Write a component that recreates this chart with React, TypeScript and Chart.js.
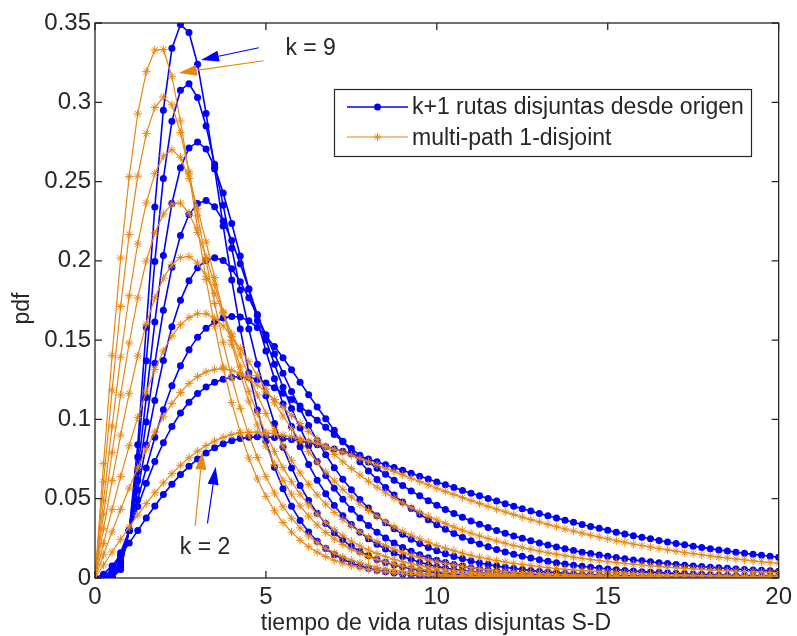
import React, { useEffect, useRef } from 'react';
import { Chart, registerables } from 'chart.js';

Chart.register(...registerables);

// ---------------- data ----------------
const X = [
  0, 0.25, 0.5, 0.75, 1, 1.25, 1.5, 1.75, 2, 2.25, 2.5, 2.75, 3, 3.25, 3.5, 3.75,
  4, 4.25, 4.5, 4.75, 5, 5.25, 5.5, 5.75, 6, 6.25, 6.5, 6.75, 7, 7.25, 7.5, 7.75,
  8, 8.25, 8.5, 8.75, 9, 9.25, 9.5, 9.75, 10, 10.25, 10.5, 10.75, 11, 11.25, 11.5, 11.75,
  12, 12.25, 12.5, 12.75, 13, 13.25, 13.5, 13.75, 14, 14.25, 14.5, 14.75, 15, 15.25, 15.5, 15.75,
  16, 16.25, 16.5, 16.75, 17, 17.25, 17.5, 17.75, 18, 18.25, 18.5, 18.75, 19, 19.25, 19.5, 19.75,
  20,
];

const K_VALUES = [2, 3, 4, 5, 6, 7, 8, 9];

// "k+1 rutas disjuntas desde origen" (blue)
const BLUE_K2 = [
  0, 0.0024, 0.0076, 0.0144, 0.022, 0.0299, 0.0378, 0.0454, 0.0526, 0.0592, 0.0652, 0.0704,
  0.075, 0.0789, 0.0821, 0.0846, 0.0865, 0.0879, 0.0887, 0.089, 0.089, 0.0886, 0.0881, 0.0873,
  0.0864, 0.0853, 0.0841, 0.0828, 0.0814, 0.0799, 0.0783, 0.0767, 0.075, 0.0733, 0.0714, 0.0697,
  0.0679, 0.0661, 0.0642, 0.0624, 0.0606, 0.0588, 0.057, 0.0552, 0.0535, 0.0518, 0.0501, 0.0485,
  0.0469, 0.0453, 0.0437, 0.0422, 0.0407, 0.0392, 0.0378, 0.0364, 0.0351, 0.0338, 0.0325, 0.0313,
  0.0301, 0.0289, 0.0278, 0.0267, 0.0257, 0.0247, 0.0237, 0.0227, 0.0218, 0.0209, 0.0201, 0.0193,
  0.0185, 0.0177, 0.017, 0.0163, 0.0156, 0.0149, 0.0143, 0.0137, 0.0131,
];
const BLUE_K3 = [
  0, 0.0005, 0.0055, 0.016, 0.03, 0.0451, 0.0598, 0.0734, 0.0853, 0.0955, 0.104, 0.1109,
  0.1163, 0.1204, 0.1234, 0.1254, 0.1266, 0.127, 0.1266, 0.1252, 0.1229, 0.12, 0.1165, 0.1126,
  0.1084, 0.104, 0.0995, 0.095, 0.0905, 0.086, 0.0816, 0.0774, 0.0732, 0.0692, 0.0654, 0.0617,
  0.0583, 0.0549, 0.0518, 0.0487, 0.0459, 0.0432, 0.0407, 0.0383, 0.036, 0.0339, 0.0319, 0.03,
  0.0282, 0.0265, 0.025, 0.0235, 0.0221, 0.0208, 0.0196, 0.0184, 0.0173, 0.0163, 0.0154, 0.0145,
  0.0137, 0.0129, 0.0121, 0.0114, 0.0108, 0.0102, 0.0096, 0.0091, 0.0085, 0.0081, 0.0076, 0.0072,
  0.0068, 0.0064, 0.0061, 0.0057, 0.0054, 0.0051, 0.0049, 0.0046, 0.0043,
];
const BLUE_K4 = [
  0, 0.0002, 0.0037, 0.0139, 0.03, 0.0493, 0.0694, 0.0887, 0.1061, 0.1212, 0.1338, 0.1439,
  0.1518, 0.1575, 0.1615, 0.1639, 0.1649, 0.1646, 0.1622, 0.158, 0.1525, 0.146, 0.1389, 0.1313,
  0.1235, 0.1156, 0.1079, 0.1004, 0.0931, 0.0862, 0.0796, 0.0733, 0.0675, 0.0621, 0.057, 0.0523,
  0.0479, 0.0439, 0.0402, 0.0368, 0.0336, 0.0308, 0.0281, 0.0257, 0.0235, 0.0215, 0.0197, 0.018,
  0.0164, 0.015, 0.0137, 0.0126, 0.0115, 0.0105, 0.0096, 0.0088, 0.0081, 0.0074, 0.0068, 0.0062,
  0.0057, 0.0052, 0.0048, 0.0044, 0.004, 0.0037, 0.0034, 0.0031, 0.0029, 0.0027, 0.0024, 0.0023,
  0.0021, 0.0019, 0.0018, 0.0016, 0.0015, 0.0014, 0.0013, 0.0012, 0.0011,
];
const BLUE_K5 = [
  0, 0, 0.0021, 0.0114, 0.03, 0.0555, 0.0839, 0.1119, 0.1372, 0.1584, 0.1751, 0.1874,
  0.1957, 0.2003, 0.202, 0.2003, 0.195, 0.1868, 0.1767, 0.1654, 0.1534, 0.1412, 0.1292, 0.1176,
  0.1066, 0.0962, 0.0866, 0.0777, 0.0696, 0.0622, 0.0556, 0.0495, 0.0441, 0.0393, 0.0349, 0.031,
  0.0276, 0.0245, 0.0218, 0.0193, 0.0172, 0.0153, 0.0136, 0.0121, 0.0107, 0.0095, 0.0085, 0.0075,
  0.0067, 0.006, 0.0053, 0.0048, 0.0042, 0.0038, 0.0034, 0.003, 0.0027, 0.0024, 0.0022, 0.0019,
  0.0017, 0.0016, 0.0014, 0.0013, 0.0011, 0.001, 0.0009, 0.0008, 0.0007, 0.0007, 0.0006, 0.0005,
  0.0005, 0.0004, 0.0004, 0.0004, 0.0003, 0.0003, 0.0003, 0.0003, 0.0002,
];
const BLUE_K6 = [
  0, 0, 0.0012, 0.0095, 0.03, 0.0613, 0.0983, 0.1355, 0.1688, 0.1959, 0.216, 0.2292,
  0.2362, 0.238, 0.2341, 0.2252, 0.2128, 0.1981, 0.1823, 0.1661, 0.1501, 0.1348, 0.1203, 0.1069,
  0.0946, 0.0835, 0.0735, 0.0646, 0.0566, 0.0496, 0.0434, 0.0379, 0.0331, 0.0289, 0.0253, 0.022,
  0.0192, 0.0168, 0.0147, 0.0128, 0.0112, 0.0098, 0.0085, 0.0075, 0.0065, 0.0057, 0.005, 0.0044,
  0.0039, 0.0034, 0.003, 0.0026, 0.0023, 0.002, 0.0018, 0.0016, 0.0014, 0.0012, 0.0011, 0.001,
  0.0008, 0.0008, 0.0007, 0.0006, 0.0005, 0.0005, 0.0004, 0.0004, 0.0004, 0.0003, 0.0003, 0.0003,
  0.0003, 0.0002, 0.0002, 0.0002, 0.0002, 0.0002, 0.0002, 0.0002, 0.0002,
];
const BLUE_K7 = [
  0, 0, 0.0008, 0.0081, 0.03, 0.0674, 0.1139, 0.1614, 0.2034, 0.2363, 0.2587, 0.2712,
  0.275, 0.2706, 0.2591, 0.2428, 0.2236, 0.2031, 0.1823, 0.1622, 0.1432, 0.1257, 0.1098, 0.0955,
  0.0827, 0.0715, 0.0617, 0.0531, 0.0457, 0.0393, 0.0337, 0.0289, 0.0248, 0.0213, 0.0183, 0.0157,
  0.0135, 0.0116, 0.0099, 0.0085, 0.0073, 0.0063, 0.0054, 0.0047, 0.004, 0.0035, 0.003, 0.0026,
  0.0023, 0.002, 0.0017, 0.0015, 0.0013, 0.0011, 0.001, 0.0008, 0.0007, 0.0006, 0.0006, 0.0005,
  0.0004, 0.0004, 0.0003, 0.0003, 0.0003, 0.0002, 0.0002, 0.0002, 0.0002, 0.0001, 0.0001, 0.0001,
  0.0001, 0.0001, 0.0001, 0.0001, 0.0001, 0.0001, 0.0001, 0.0001, 0.0001,
];
const BLUE_K8 = [
  0, 0, 0.0004, 0.0063, 0.03, 0.0763, 0.137, 0.1996, 0.252, 0.288, 0.3076, 0.3117,
  0.303, 0.285, 0.261, 0.235, 0.208, 0.1816, 0.157, 0.1348, 0.1149, 0.0975, 0.0824, 0.0694,
  0.0583, 0.0489, 0.0409, 0.0343, 0.0286, 0.0239, 0.02, 0.0167, 0.014, 0.0117, 0.0098, 0.0082,
  0.0069, 0.0058, 0.0048, 0.0041, 0.0034, 0.0029, 0.0024, 0.0021, 0.0017, 0.0015, 0.0012, 0.0011,
  0.0009, 0.0008, 0.0006, 0.0005, 0.0005, 0.0004, 0.0004, 0.0003, 0.0003, 0.0002, 0.0002, 0.0002,
  0.0002, 0.0001, 0.0001, 0.0001, 0.0001, 0.0001, 0.0001, 0.0001, 0, 0, 0, 0,
  0, 0, 0, 0, 0, 0, 0, 0, 0,
];
const BLUE_K9 = [
  0, 0, 0.0002, 0.0053, 0.0301, 0.084, 0.158, 0.234, 0.295, 0.334, 0.349, 0.344,
  0.324, 0.293, 0.258, 0.222, 0.188, 0.157, 0.1295, 0.106, 0.0863, 0.0698, 0.0563, 0.0452,
  0.0363, 0.029, 0.0232, 0.0186, 0.0148, 0.0118, 0.0095, 0.0076, 0.0061, 0.0049, 0.0039, 0.0031,
  0.0025, 0.002, 0.0016, 0.0013, 0.0011, 0.0009, 0.0007, 0.0006, 0.0005, 0.0004, 0.0003, 0.0003,
  0.0002, 0.0002, 0.0001, 0.0001, 0.0001, 0.0001, 0.0001, 0, 0, 0, 0, 0,
  0, 0, 0, 0, 0, 0, 0, 0, 0, 0, 0, 0,
  0, 0, 0, 0, 0, 0, 0, 0, 0,
];

// "multi-path 1-disjoint" (orange)
const ORANGE_K2 = [
  0, 0.0082, 0.0164, 0.0244, 0.0322, 0.0397, 0.0469, 0.0537, 0.06, 0.0658, 0.0711, 0.0758,
  0.08, 0.0835, 0.0864, 0.0887, 0.0904, 0.0915, 0.092, 0.092, 0.0916, 0.091, 0.0901, 0.089,
  0.0878, 0.0863, 0.0847, 0.083, 0.0812, 0.0793, 0.0774, 0.0754, 0.0733, 0.0713, 0.0692, 0.0671,
  0.065, 0.0629, 0.0608, 0.0587, 0.0566, 0.0546, 0.0527, 0.0507, 0.0488, 0.047, 0.0452, 0.0434,
  0.0417, 0.04, 0.0384, 0.0368, 0.0353, 0.0338, 0.0323, 0.0309, 0.0296, 0.0283, 0.027, 0.0258,
  0.0247, 0.0235, 0.0225, 0.0214, 0.0205, 0.0195, 0.0186, 0.0177, 0.0169, 0.0161, 0.0154, 0.0146,
  0.0139, 0.0132, 0.0126, 0.012, 0.0114, 0.0108, 0.0103, 0.0098, 0.0093,
];
const ORANGE_K3 = [
  0, 0.0147, 0.0291, 0.0432, 0.0567, 0.0694, 0.0813, 0.092, 0.1016, 0.11, 0.117, 0.1227,
  0.127, 0.13, 0.1316, 0.132, 0.131, 0.1288, 0.1256, 0.1217, 0.1173, 0.1126, 0.1076, 0.1026,
  0.0974, 0.0924, 0.0874, 0.0826, 0.0779, 0.0733, 0.069, 0.0649, 0.061, 0.0573, 0.0537, 0.0504,
  0.0473, 0.0444, 0.0416, 0.039, 0.0366, 0.0343, 0.0321, 0.0301, 0.0282, 0.0265, 0.0248, 0.0233,
  0.0219, 0.0205, 0.0193, 0.0181, 0.017, 0.0159, 0.015, 0.0141, 0.0132, 0.0124, 0.0117, 0.011,
  0.0104, 0.0098, 0.0092, 0.0087, 0.0082, 0.0077, 0.0072, 0.0068, 0.0064, 0.0061, 0.0057, 0.0054,
  0.0051, 0.0048, 0.0046, 0.0043, 0.0041, 0.0039, 0.0037, 0.0035, 0.0033,
];
const ORANGE_K4 = [
  0, 0.0218, 0.0433, 0.0639, 0.0834, 0.1013, 0.1174, 0.1314, 0.1432, 0.1526, 0.1597, 0.1643,
  0.1667, 0.1667, 0.1639, 0.159, 0.1524, 0.1447, 0.1364, 0.1278, 0.1191, 0.1105, 0.1022, 0.0943,
  0.0867, 0.0796, 0.073, 0.0669, 0.0612, 0.0559, 0.0511, 0.0466, 0.0426, 0.0389, 0.0355, 0.0323,
  0.0295, 0.027, 0.0246, 0.0225, 0.0205, 0.0187, 0.0171, 0.0157, 0.0143, 0.0131, 0.012, 0.011,
  0.0101, 0.0092, 0.0085, 0.0078, 0.0071, 0.0065, 0.006, 0.0055, 0.0051, 0.0047, 0.0043, 0.004,
  0.0037, 0.0034, 0.0031, 0.0029, 0.0027, 0.0024, 0.0023, 0.0021, 0.0019, 0.0018, 0.0017, 0.0015,
  0.0014, 0.0013, 0.0012, 0.0011, 0.0011, 0.001, 0.0009, 0.0008, 0.0008,
];
const ORANGE_K5 = [
  0, 0.0311, 0.0614, 0.0901, 0.1165, 0.14, 0.1602, 0.1766, 0.1891, 0.1975, 0.2021, 0.2028,
  0.1986, 0.1904, 0.1795, 0.1671, 0.154, 0.1407, 0.1277, 0.1154, 0.1038, 0.0931, 0.0833, 0.0743,
  0.0662, 0.059, 0.0524, 0.0466, 0.0414, 0.0368, 0.0327, 0.029, 0.0258, 0.023, 0.0204, 0.0182,
  0.0162, 0.0144, 0.0128, 0.0114, 0.0102, 0.0091, 0.0081, 0.0073, 0.0065, 0.0058, 0.0052, 0.0047,
  0.0042, 0.0038, 0.0034, 0.0031, 0.0028, 0.0025, 0.0022, 0.002, 0.0018, 0.0016, 0.0015, 0.0013,
  0.0012, 0.0011, 0.001, 0.0009, 0.0008, 0.0007, 0.0007, 0.0006, 0.0006, 0.0005, 0.0005, 0.0004,
  0.0004, 0.0004, 0.0003, 0.0003, 0.0003, 0.0003, 0.0002, 0.0002, 0.0002,
];
const ORANGE_K6 = [
  0, 0.0402, 0.079, 0.1154, 0.1482, 0.1766, 0.1999, 0.2176, 0.2295, 0.2358, 0.2365, 0.2301,
  0.2179, 0.2024, 0.185, 0.1672, 0.1498, 0.1332, 0.1177, 0.1037, 0.091, 0.0797, 0.0696, 0.0607,
  0.0529, 0.0461, 0.0402, 0.035, 0.0305, 0.0266, 0.0232, 0.0202, 0.0176, 0.0154, 0.0134, 0.0118,
  0.0103, 0.009, 0.0079, 0.0069, 0.0061, 0.0054, 0.0047, 0.0042, 0.0037, 0.0032, 0.0029, 0.0025,
  0.0022, 0.002, 0.0018, 0.0016, 0.0014, 0.0012, 0.0011, 0.001, 0.0009, 0.0008, 0.0007, 0.0006,
  0.0006, 0.0005, 0.0005, 0.0004, 0.0004, 0.0003, 0.0003, 0.0003, 0.0003, 0.0002, 0.0002, 0.0002,
  0.0002, 0.0002, 0.0002, 0.0001, 0.0001, 0.0001, 0.0001, 0.0001, 0.0001,
];
const ORANGE_K7 = [
  0, 0.0487, 0.0957, 0.1393, 0.178, 0.2107, 0.2365, 0.255, 0.2661, 0.27, 0.2653, 0.2519,
  0.2332, 0.2118, 0.1895, 0.1678, 0.1474, 0.1286, 0.1116, 0.0965, 0.0833, 0.0717, 0.0616, 0.0529,
  0.0454, 0.039, 0.0335, 0.0287, 0.0247, 0.0212, 0.0182, 0.0157, 0.0135, 0.0117, 0.0101, 0.0087,
  0.0075, 0.0065, 0.0056, 0.0049, 0.0043, 0.0037, 0.0032, 0.0028, 0.0025, 0.0021, 0.0019, 0.0016,
  0.0014, 0.0013, 0.0011, 0.001, 0.0009, 0.0008, 0.0007, 0.0006, 0.0005, 0.0005, 0.0004, 0.0004,
  0.0003, 0.0003, 0.0003, 0.0002, 0.0002, 0.0002, 0.0002, 0.0002, 0.0002, 0.0001, 0.0001, 0.0001,
  0.0001, 0.0001, 0.0001, 0.0001, 0.0001, 0.0001, 0.0001, 0.0001, 0.0001,
];
const ORANGE_K8 = [
  0, 0.0606, 0.1185, 0.1712, 0.2167, 0.2534, 0.2802, 0.2967, 0.3033, 0.2984, 0.2809, 0.2562,
  0.2284, 0.2001, 0.1731, 0.1484, 0.1263, 0.107, 0.0903, 0.076, 0.0639, 0.0536, 0.0449, 0.0377,
  0.0316, 0.0265, 0.0223, 0.0187, 0.0158, 0.0133, 0.0112, 0.0095, 0.008, 0.0068, 0.0057, 0.0049,
  0.0042, 0.0035, 0.003, 0.0026, 0.0022, 0.0019, 0.0016, 0.0014, 0.0012, 0.001, 0.0009, 0.0008,
  0.0007, 0.0006, 0.0005, 0.0004, 0.0004, 0.0003, 0.0003, 0.0002, 0.0002, 0.0002, 0.0002, 0.0002,
  0.0001, 0.0001, 0.0001, 0.0001, 0.0001, 0.0001, 0.0001, 0.0001, 0, 0, 0, 0,
  0, 0, 0, 0, 0, 0, 0, 0, 0,
];
const ORANGE_K9 = [
  0, 0.0721, 0.1404, 0.2017, 0.2531, 0.2927, 0.3193, 0.3329, 0.3333, 0.3164, 0.2882, 0.2549,
  0.2207, 0.1883, 0.1588, 0.1329, 0.1106, 0.0917, 0.0757, 0.0625, 0.0515, 0.0424, 0.035, 0.0289,
  0.0238, 0.0197, 0.0163, 0.0135, 0.0112, 0.0093, 0.0077, 0.0064, 0.0054, 0.0045, 0.0038, 0.0032,
  0.0027, 0.0022, 0.0019, 0.0016, 0.0013, 0.0011, 0.001, 0.0008, 0.0007, 0.0006, 0.0005, 0.0004,
  0.0004, 0.0003, 0.0003, 0.0002, 0.0002, 0.0002, 0.0001, 0.0001, 0.0001, 0.0001, 0.0001, 0.0001,
  0.0001, 0, 0, 0, 0, 0, 0, 0, 0, 0, 0, 0,
  0, 0, 0, 0, 0, 0, 0, 0, 0,
];

const BLUE_SERIES = [BLUE_K2, BLUE_K3, BLUE_K4, BLUE_K5, BLUE_K6, BLUE_K7, BLUE_K8, BLUE_K9];
const ORANGE_SERIES = [ORANGE_K2, ORANGE_K3, ORANGE_K4, ORANGE_K5, ORANGE_K6, ORANGE_K7, ORANGE_K8, ORANGE_K9];

const LEGEND_LABELS = ['k+1 rutas disjuntas desde origen', 'multi-path 1-disjoint'];
const X_TITLE = 'tiempo de vida rutas disjuntas S-D';
const Y_TITLE = 'pdf';

const X_TICKS = [0, 5, 10, 15, 20];
const X_TICK_LABELS = ['0', '5', '10', '15', '20'];
const Y_TICKS = [0, 0.05, 0.1, 0.15, 0.2, 0.25, 0.3, 0.35];
const Y_TICK_LABELS = ['0', '0.05', '0.1', '0.15', '0.2', '0.25', '0.3', '0.35'];

// annotation text + arrows (data coordinates)
const NOTE_LABELS = [
  { text: 'k = 9', x: 5.57, y: 0.3336, align: 'left' },
  { text: 'k = 2', x: 3.22, y: 0.0189, align: 'center' },
];
const NOTE_ARROWS = [
  { series: 'blue', from: [4.79, 0.3344], to: [3.1, 0.3267] },
  { series: 'orange', from: [4.935, 0.3262], to: [2.45, 0.3185] },
  { series: 'orange', from: [2.93, 0.0328], to: [3.145, 0.0797] },
  { series: 'blue', from: [3.29, 0.0345], to: [3.53, 0.0702] },
];

// ---------------- styles ----------------
const BLUE = '#0000ff';
const ORANGE = '#e68714';
const INK = '#262626';
const FONT = '"Liberation Sans", Arial, Helvetica, sans-serif';
const TEXT_SIZE = 23;
const TICK_SIZE = 24;

function drawArrow(ctx: CanvasRenderingContext2D, x1: number, y1: number, x2: number, y2: number, color: string) {
  const len = 18;
  const hw = 5.5;
  const ang = Math.atan2(y2 - y1, x2 - x1);
  const bx = x2 - len * Math.cos(ang);
  const by = y2 - len * Math.sin(ang);
  ctx.strokeStyle = color;
  ctx.lineWidth = 1.2;
  ctx.beginPath();
  ctx.moveTo(x1, y1);
  ctx.lineTo(bx, by);
  ctx.stroke();
  ctx.fillStyle = color;
  ctx.beginPath();
  ctx.moveTo(x2, y2);
  ctx.lineTo(bx - hw * Math.sin(ang), by + hw * Math.cos(ang));
  ctx.lineTo(bx + hw * Math.sin(ang), by - hw * Math.cos(ang));
  ctx.closePath();
  ctx.fill();
}

function drawStar(ctx: CanvasRenderingContext2D, x: number, y: number, r: number, color: string) {
  ctx.strokeStyle = color;
  ctx.lineWidth = 1;
  ctx.beginPath();
  ctx.moveTo(x - r, y); ctx.lineTo(x + r, y);
  ctx.moveTo(x, y - r); ctx.lineTo(x, y + r);
  const d = r * 0.7071;
  ctx.moveTo(x - d, y - d); ctx.lineTo(x + d, y + d);
  ctx.moveTo(x - d, y + d); ctx.lineTo(x + d, y - d);
  ctx.stroke();
}

const framePlugin = {
  id: 'matlabFrame',
  afterDraw(chart: any) {
    const ctx: CanvasRenderingContext2D = chart.ctx;
    const { left, right, top, bottom } = chart.chartArea;
    const xs = chart.scales.x;
    const ys = chart.scales.y;
    ctx.save();

    // box
    ctx.strokeStyle = INK;
    ctx.lineWidth = 1.3;
    ctx.strokeRect(left, top, right - left, bottom - top);

    // inward ticks on all four sides
    const tl = 7;
    ctx.beginPath();
    X_TICKS.forEach((v) => {
      const px = xs.getPixelForValue(v);
      ctx.moveTo(px, bottom); ctx.lineTo(px, bottom - tl);
      ctx.moveTo(px, top); ctx.lineTo(px, top + tl);
    });
    Y_TICKS.forEach((v) => {
      const py = ys.getPixelForValue(v);
      ctx.moveTo(left, py); ctx.lineTo(left + tl, py);
      ctx.moveTo(right, py); ctx.lineTo(right - tl, py);
    });
    ctx.stroke();

    // annotation arrows
    NOTE_ARROWS.forEach((a) => {
      drawArrow(
        ctx,
        xs.getPixelForValue(a.from[0]), ys.getPixelForValue(a.from[1]),
        xs.getPixelForValue(a.to[0]), ys.getPixelForValue(a.to[1]),
        a.series === 'blue' ? BLUE : ORANGE,
      );
    });

    ctx.font = `${TEXT_SIZE}px ${FONT}`;
    ctx.fillStyle = INK;
    ctx.textBaseline = 'middle';
    NOTE_LABELS.forEach((n) => {
      ctx.textAlign = n.align as CanvasTextAlign;
      ctx.fillText(n.text, xs.getPixelForValue(n.x), ys.getPixelForValue(n.y));
    });

    // legend box
    const lx = 334.5, ly = 89.5, lw = 417, lh = 67;
    ctx.fillStyle = '#ffffff';
    ctx.fillRect(lx, ly, lw, lh);
    ctx.strokeStyle = INK;
    ctx.lineWidth = 1.2;
    ctx.strokeRect(lx, ly, lw, lh);

    // blue entry
    ctx.strokeStyle = BLUE;
    ctx.lineWidth = 1.5;
    ctx.beginPath();
    ctx.moveTo(347, 107); ctx.lineTo(408, 107);
    ctx.stroke();
    ctx.fillStyle = BLUE;
    ctx.beginPath();
    ctx.arc(377.5, 107, 3.5, 0, Math.PI * 2);
    ctx.fill();
    // orange entry
    ctx.strokeStyle = ORANGE;
    ctx.lineWidth = 1.2;
    ctx.beginPath();
    ctx.moveTo(347, 137); ctx.lineTo(408, 137);
    ctx.stroke();
    drawStar(ctx, 377.5, 137, 4, ORANGE);

    ctx.fillStyle = INK;
    ctx.textAlign = 'left';
    ctx.fillText(LEGEND_LABELS[0], 412, 108);
    ctx.fillText(LEGEND_LABELS[1], 412, 139);

    // axis titles
    ctx.textAlign = 'center';
    ctx.fillText(X_TITLE, 436, 624);
    ctx.save();
    ctx.translate(23, (top + bottom) / 2 + 8);
    ctx.rotate(-Math.PI / 2);
    ctx.fillText(Y_TITLE, 0, 0);
    ctx.restore();

    ctx.restore();
  },
};

export default function App() {
  const canvasRef = useRef<HTMLCanvasElement | null>(null);

  useEffect(() => {
    const canvas = canvasRef.current;
    if (!canvas) return;

    const datasets: any[] = [];
    // orange on top (index 0 is drawn last)
    K_VALUES.forEach((k, i) => {
      datasets.push({
        label: `${LEGEND_LABELS[1]} k=${k}`,
        data: ORANGE_SERIES[i].map((y, j) => ({ x: X[j], y })),
        borderColor: ORANGE,
        backgroundColor: ORANGE,
        borderWidth: 1.2,
        pointStyle: 'star',
        pointRadius: 4.2,
        pointBorderWidth: 1,
        pointBorderColor: ORANGE,
        tension: 0,
      });
    });
    K_VALUES.forEach((k, i) => {
      datasets.push({
        label: `${LEGEND_LABELS[0]} k=${k}`,
        data: BLUE_SERIES[i].map((y, j) => ({ x: X[j], y })),
        borderColor: BLUE,
        backgroundColor: BLUE,
        borderWidth: 1.6,
        pointStyle: 'circle',
        pointRadius: 3.5,
        pointBorderWidth: 0,
        tension: 0,
      });
    });

    const tickFont = { family: FONT, size: TICK_SIZE };

    const chart = new Chart(canvas, {
      type: 'line',
      data: { datasets },
      options: {
        animation: false,
        responsive: false,
        events: [],
        layout: { padding: { top: 23, right: 13, left: 0, bottom: 0 } },
        plugins: {
          legend: { display: false },
          tooltip: { enabled: false },
          title: { display: false },
        },
        scales: {
          x: {
            type: 'linear',
            min: 0,
            max: 20,
            afterBuildTicks: (s: any) => { s.ticks = X_TICKS.map((v) => ({ value: v })); },
            afterFit: (s: any) => { s.height = 58; },
            ticks: {
              callback: (_v: any, i: number) => X_TICK_LABELS[i],
              font: tickFont,
              color: INK,
              padding: 5,
              maxRotation: 0,
              autoSkip: false,
            },
            grid: { display: false, drawTicks: false },
            border: { display: false },
          },
          y: {
            type: 'linear',
            min: 0,
            max: 0.35,
            afterBuildTicks: (s: any) => { s.ticks = Y_TICKS.map((v) => ({ value: v })); },
            afterFit: (s: any) => { s.width = 95; },
            ticks: {
              callback: (_v: any, i: number) => Y_TICK_LABELS[i],
              font: tickFont,
              color: INK,
              padding: 4,
              autoSkip: false,
            },
            grid: { display: false, drawTicks: false },
            border: { display: false },
          },
        },
      },
      plugins: [framePlugin],
    });

    return () => chart.destroy();
  }, []);

  return (
    <div style={{ position: 'fixed', left: 0, top: 0, width: 797, height: 636, background: '#ffffff' }}>
      <canvas ref={canvasRef} width={797} height={636} style={{ display: 'block' }} />
    </div>
  );
}
